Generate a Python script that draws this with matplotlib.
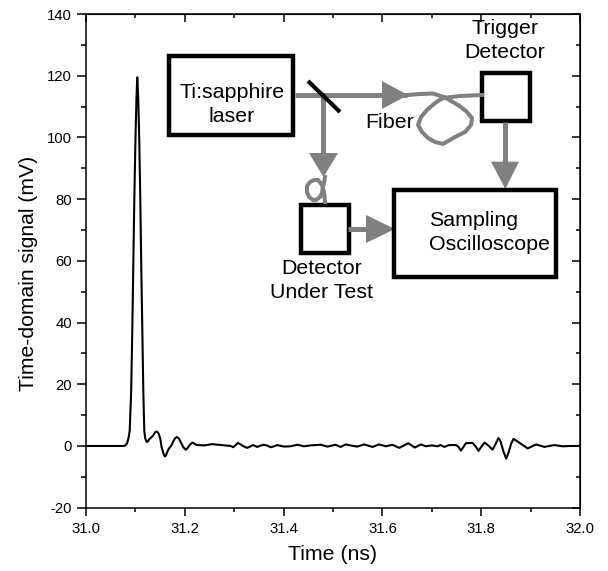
import matplotlib
matplotlib.use("Agg")
import matplotlib.pyplot as plt
from matplotlib.patches import Rectangle, Polygon
from matplotlib.ticker import MultipleLocator

plt.rcParams['font.family'] = ['Liberation Sans', 'DejaVu Sans']
plt.rcParams['axes.unicode_minus'] = False

W, H = 608, 571
time_ns = [31.0, 31.03, 31.06, 31.075, 31.079, 31.083, 31.086, 31.0885, 31.0915, 31.0937, 31.0957, 31.0978, 31.1002, 31.1022, 31.1038,
           31.1057, 31.1077, 31.1099, 31.1119, 31.114, 31.116, 31.118, 31.1198, 31.1229, 31.1255, 31.128, 31.131, 31.136, 31.1395, 31.1426, 31.1455, 31.148, 31.1505,
           31.153, 31.156, 31.158, 31.160, 31.162, 31.1645, 31.1676, 31.173, 31.177, 31.181, 31.1845, 31.188, 31.192, 31.197, 31.202, 31.205, 31.208,
           31.212, 31.2155, 31.219, 31.224, 31.24, 31.255, 31.28, 31.293, 31.298, 31.303, 31.3074, 31.312, 31.319, 31.326, 31.332, 31.338, 31.3466,
           31.353, 31.36, 31.367, 31.374, 31.381, 31.387, 31.401, 31.414, 31.4277, 31.441, 31.455, 31.475, 31.489, 31.505,
           31.5155, 31.5257, 31.538, 31.549, 31.563, 31.58, 31.593, 31.607, 31.62, 31.634, 31.643, 31.652, 31.659, 31.6655,
           31.678, 31.688, 31.70, 31.711, 31.718, 31.725, 31.735, 31.749, 31.754, 31.759, 31.764, 31.769,
           31.7824, 31.789, 31.7946, 31.80, 31.807, 31.815, 31.823, 31.829, 31.835, 31.839, 31.845, 31.8507,
           31.856, 31.861, 31.8655, 31.877, 31.886, 31.894, 31.911, 31.928, 31.948, 31.965, 31.98, 32.0]
signal_mv = [0.0, 0.0, 0.0, 0.0, 0.1, 0.8, 2.5, 5.0, 18.0, 37.5, 58.0, 80.0, 100.0, 113.0, 119.5,
             113.0, 100.0, 80.0, 58.0, 37.5, 18.0, 5.0, 2.5, 1.3, 1.5, 2.2, 2.6, 3.4, 4.4, 4.7, 4.4, 3.6, 2.2,
             -0.3, -2.0, -3.0, -3.4, -3.0, -1.9, -0.9, 0.2, 1.6, 2.6, 2.9, 2.4, 1.2, -0.4, -1.2, -0.8, -0.1,
             0.7, 1.1, 0.8, 0.3, 0.2, 0.6, 0.2, 0.0, -0.4, 0.3, 1.0, 0.6, -0.1, -0.6, -0.2, 0.3, -0.3,
             0.1, 0.4, 0.1, -0.4, -0.1, 0.3, -0.2, -0.1, 0.4, -0.1, 0.2, 0.4, -0.2, 0.4,
             -0.3, 0.5, 0.1, -0.2, 0.5, -0.3, 0.5, -0.1, 0.4, -0.6, 0.1, 0.9, 0.2, -0.5,
             0.5, -0.1, 0.2, -0.1, 0.3, -0.3, 0.3, 0.3, -0.3, -1.5, -0.3, 0.9,
             1.0, -0.2, -1.6, -0.3, 1.1, 0.1, -1.2, 0.6, 2.6, 1.6, -1.8, -4.1,
             -1.8, 0.9, 2.3, 1.1, 0.1, -0.8, 0.5, -0.3, 0.3, -0.1, 0.0, 0.0]
x_ticks = [31.0, 31.2, 31.4, 31.6, 31.8, 32.0]
y_ticks = [-20, 0, 20, 40, 60, 80, 100, 120, 140]

# Diagram: boxes as (left, top, right, bottom) in picture pixels
boxes = [(169, 56, 293, 135), (482, 73, 530, 121), (394.3, 190, 556.3, 277.3), (300.7, 205, 348.7, 253.3)]
beams = [((295, 95), (407, 95)), ((323.3, 95), (323.3, 153)), ((505.3, 122), (505.3, 162)), ((348, 229), (366, 229))]
heads = [[(382, 81), (382, 109), (408, 95)], [(309, 153), (338, 153), (323.5, 177)],
         [(491, 161.7), (519, 161.7), (505.3, 189)], [(366, 215), (366, 243), (395, 229)]]
mirror = [(308, 81), (340, 112)]
long_fiber = [(408, 95), (420, 94), (433, 93.5), (445, 97.5), (458, 105), (466, 111), (472, 118), (471, 125), (465, 132), (455, 137),
              (443, 144), (435, 142), (428, 138), (422, 132), (418, 125), (421, 117), (427, 110), (435, 103), (443, 98), (460, 96), (482, 95)]
short_fiber = [(325, 177), (324, 183), (323, 187), (322, 193), (320, 197), (316, 200), (313, 200), (309, 197), (307, 192), (307, 186), (310, 182),
               (314, 180), (318, 180), (322, 185), (324, 192), (325, 202)]
labels = [(231.7, 92, "Ti:sapphire"), (231.7, 116.5, "laser"), (504.5, 28, "Trigger"), (504.5, 53, "Detector"),
          (389.5, 123, "Fiber"), (322, 268, "Detector"), (322, 293, "Under Test")]
left_labels = [(429, 220, "Sampling"), (429, 245, "Oscilloscope")]

fig = plt.figure(figsize=(W / 100, H / 100), dpi=100)
ax = fig.add_axes([86 / W, 1 - 507.7 / H, 494 / W, 493.7 / H])
ax.plot(time_ns, signal_mv, color='black', lw=1.5, solid_joinstyle='round')
ax.set_xlim(31.0, 32.0)
ax.set_ylim(-20, 140)
ax.set_xticks(x_ticks)
ax.set_xticklabels([f"{t:.1f}" for t in x_ticks])
ax.set_yticks(y_ticks)
ax.xaxis.set_minor_locator(MultipleLocator(0.1))
ax.yaxis.set_minor_locator(MultipleLocator(10))
ax.tick_params(axis='x', which='major', labelsize=10.7, width=1.1, length=5.5, direction='out', pad=5)
ax.tick_params(axis='x', which='minor', width=1.1, length=2.9, direction='out')
ax.tick_params(axis='y', which='major', labelsize=10.7, width=1.1, length=6.3, direction='out', pad=3.6)
ax.tick_params(axis='y', which='minor', width=1.1, length=3.4, direction='out')
for sp in ax.spines.values():
    sp.set_linewidth(1.1)
# Mirrored inward ticks on the top and right edges
top = ax.secondary_xaxis('top')
top.set_xticks(x_ticks)
top.xaxis.set_minor_locator(MultipleLocator(0.1))
top.tick_params(axis='x', which='major', length=5.5, width=1.1, direction='in', labeltop=False)
top.tick_params(axis='x', which='minor', length=2.9, width=1.1, direction='in')
right = ax.secondary_yaxis('right')
right.set_yticks(y_ticks)
right.yaxis.set_minor_locator(MultipleLocator(10))
right.tick_params(axis='y', which='major', length=5.5, width=1.1, direction='in', labelright=False)
right.tick_params(axis='y', which='minor', length=2.9, width=1.1, direction='in')
ax.set_xlabel("Time (ns)", fontsize=15.3)
ax.set_ylabel("Time-domain signal (mV)", fontsize=15.2)
ax.xaxis.set_label_coords(0.5, -0.075)
ax.yaxis.set_label_coords(-0.098, 0.475)

ov = fig.add_axes([0, 0, 1, 1], facecolor='none')
ov.set_xlim(0, W)
ov.set_ylim(H, 0)
ov.axis('off')
GRAY = '#808080'
for (a, b) in beams:
    ov.plot([a[0], b[0]], [a[1], b[1]], color=GRAY, lw=3.6, solid_capstyle='butt')
for h in heads:
    ov.add_patch(Polygon(h, closed=True, fc=GRAY, ec='none'))
for fiber in (long_fiber, short_fiber):
    ov.plot(*zip(*fiber), color=GRAY, lw=2.9, solid_joinstyle='round')
ov.plot(*zip(*mirror), color='black', lw=3.0, solid_capstyle='butt')
for (l, t, r, b) in boxes:
    ov.add_patch(Rectangle((l, t), r - l, b - t, fc='none', ec='black', lw=3.2, joinstyle='miter'))
for (x, y, s) in labels:
    ov.text(x, y, s, ha='center', va='center', fontsize=15.4)
for (x, y, s) in left_labels:
    ov.text(x, y, s, ha='left', va='center', fontsize=15.4)

fig.savefig("out.png", dpi=100)
